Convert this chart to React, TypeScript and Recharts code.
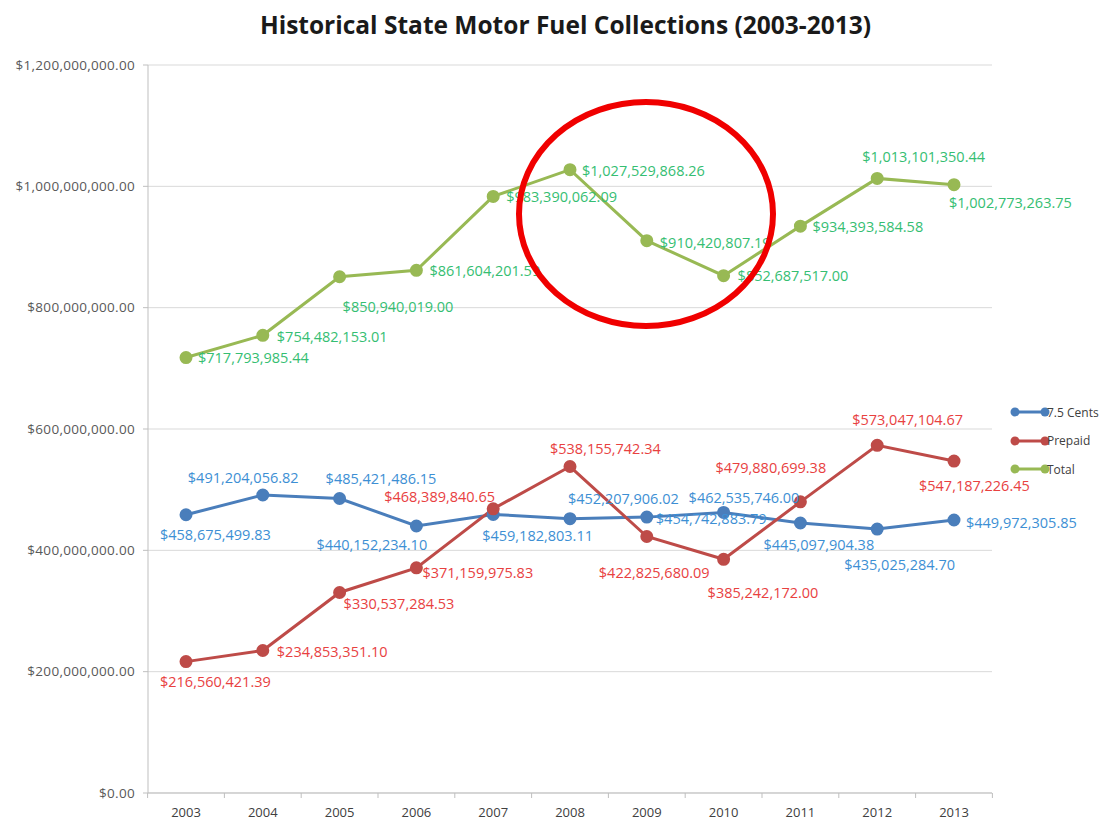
import React from 'react';
import { LineChart, Line, XAxis, YAxis, CartesianGrid, LabelList } from 'recharts';

const years = ['2003', '2004', '2005', '2006', '2007', '2008', '2009', '2010', '2011', '2012', '2013'];
const centsValues = [
  458675499.83, 491204056.82, 485421486.15, 440152234.1, 459182803.11, 452207906.02,
  454742883.79, 462535746.0, 445097904.38, 435025284.7, 449972305.85,
];
const prepaidValues = [
  216560421.39, 234853351.1, 330537284.53, 371159975.83, 468389840.65, 538155742.34,
  422825680.09, 385242172.0, 479880699.38, 573047104.67, 547187226.45,
];
const totalValues = [
  717793985.44, 754482153.01, 850940019.0, 861604201.59, 983390062.09, 1027529868.26,
  910420807.19, 852687517.0, 934393584.58, 1013101350.44, 1002773263.75,
];
const yTicks = [0, 200000000, 400000000, 600000000, 800000000, 1000000000, 1200000000];

// where each value label sits relative to its point (dx, dy), like the hand-moved Excel labels
const centsLabelOffsets = [[-26, 20], [-75, -18], [-14, -20], [-100, 19], [-11, 21], [-2, -20], [9, 1], [-35, -15], [-37, 22], [-33, 35], [12, 2]];
const prepaidLabelOffsets = [[-26, 20], [14, 1], [4, 11], [6, 5], [-109, -12], [-20, -18], [-48, 36], [-16, 33], [-85, -34], [-25, -26], [-35, 24]];
const totalLabelOffsets = [[12, 0], [14, 1], [3, 30], [13, 0], [13, 0], [12, 1], [13, 2], [14, 0], [12, 0], [-15, -22], [-5, 18]];

const data = years.map((year, i) => ({
  year,
  cents: centsValues[i],
  prepaid: prepaidValues[i],
  total: totalValues[i],
}));

const money = (v: number) =>
  '$' + v.toLocaleString('en-US', { minimumFractionDigits: 2, maximumFractionDigits: 2 });

const HALF_BAND = 38.4;

const makeLabel = (offsets: number[][], color: string) => (props: any) => {
  const { x, y, value, index } = props;
  const [dx, dy] = offsets[index] || [0, 0];
  return (
    <text
      x={x + dx}
      y={y + dy}
      fill={color}
      fontSize={14.5}
      fontFamily="'Open Sans', sans-serif"
      textAnchor="start"
      dominantBaseline="central"
    >
      {money(value)}
    </text>
  );
};

const YearTick = (props: any) => {
  const { x, y, payload, index } = props;
  return (
    <g>
      <line x1={x - HALF_BAND} y1={y - 8} x2={x - HALF_BAND} y2={y - 3} stroke="#bfbfbf" />
      {index === years.length - 1 && (
        <line x1={x + HALF_BAND} y1={y - 8} x2={x + HALF_BAND} y2={y - 3} stroke="#bfbfbf" />
      )}
      <text x={x} y={y + 16} textAnchor="middle" fill="#404040" fontSize={13} fontFamily="'Liberation Sans Narrow', 'Open Sans', sans-serif">
        {payload.value}
      </text>
    </g>
  );
};

const legendItems = [
  { name: '7.5 Cents', color: '#4a7ebb' },
  { name: 'Prepaid', color: '#be4b48' },
  { name: 'Total', color: '#98b954' },
];

const ChartLegend = () => (
  <div
    style={{
      position: 'absolute',
      left: 1010,
      top: 398,
      fontFamily: "'Open Sans', sans-serif",
      fontSize: 12,
      color: '#404040',
    }}
  >
    {legendItems.map((item) => (
      <div key={item.name} style={{ display: 'flex', alignItems: 'center', height: 28.5 }}>
        <svg width={40} height={12} style={{ display: 'block' }}>
          <line x1={5} y1={6} x2={35} y2={6} stroke={item.color} strokeWidth={3} />
          <circle cx={5} cy={6} r={4.5} fill={item.color} />
          <circle cx={35} cy={6} r={4.5} fill={item.color} />
        </svg>
        <span style={{ marginLeft: -3 }}>{item.name}</span>
      </div>
    ))}
  </div>
);

export default function App() {
  return (
    <div style={{ position: 'absolute', left: 0, top: 0, width: 1119, height: 822, background: '#fff' }}>
      <div
        style={{
          position: 'absolute',
          left: 0,
          top: 8,
          width: 1131,
          textAlign: 'center',
          fontFamily: "'Open Sans', sans-serif",
          fontWeight: 700,
          fontSize: 24.5,
          color: '#1a1a1a',
        }}
      >
        Historical State Motor Fuel Collections (2003-2013)
      </div>
      <LineChart width={1119} height={822} data={data} margin={{ top: 65, right: 127, bottom: 4, left: 8 }}>
        <CartesianGrid vertical={false} stroke="#d9d9d9" />
        <XAxis
          dataKey="year"
          padding={{ left: 38, right: 38 }}
          axisLine={{ stroke: '#bfbfbf' }}
          tickLine={false}
          tick={<YearTick />}
          height={25}
          interval={0}
        />
        <YAxis
          domain={[0, 1200000000]}
          ticks={yTicks}
          width={140}
          tickFormatter={money}
          axisLine={{ stroke: '#bfbfbf' }}
          tickLine={{ stroke: '#bfbfbf' }}
          tickSize={5}
          tickMargin={8}
          tick={{ fill: '#595959', fontSize: 13.5, letterSpacing: 0.3, fontFamily: "'Open Sans', sans-serif" }}
        />
        <Line
          dataKey="cents"
          name="7.5 Cents"
          stroke="#4a7ebb"
          strokeWidth={3}
          dot={{ r: 5, fill: '#4a7ebb', stroke: '#4a7ebb' }}
          isAnimationActive={false}
        >
          <LabelList dataKey="cents" content={makeLabel(centsLabelOffsets, '#3d8fd4')} />
        </Line>
        <Line
          dataKey="prepaid"
          name="Prepaid"
          stroke="#be4b48"
          strokeWidth={3}
          dot={{ r: 5, fill: '#be4b48', stroke: '#be4b48' }}
          isAnimationActive={false}
        >
          <LabelList dataKey="prepaid" content={makeLabel(prepaidLabelOffsets, '#e8413f')} />
        </Line>
        <Line
          dataKey="total"
          name="Total"
          stroke="#98b954"
          strokeWidth={3}
          dot={{ r: 5, fill: '#98b954', stroke: '#98b954' }}
          isAnimationActive={false}
        >
          <LabelList dataKey="total" content={makeLabel(totalLabelOffsets, '#35be72')} />
        </Line>
      </LineChart>
      <ChartLegend />
      <svg width={1119} height={822} style={{ position: 'absolute', left: 0, top: 0, pointerEvents: 'none' }}>
        <ellipse cx={646} cy={214} rx={127} ry={112} fill="none" stroke="#f00000" strokeWidth={6} />
      </svg>
    </div>
  );
}
